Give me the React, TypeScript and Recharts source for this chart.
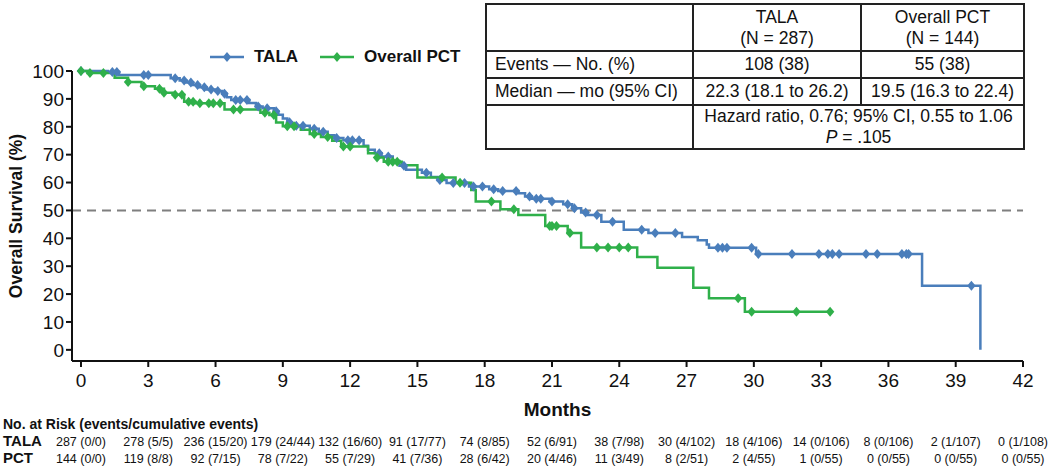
import React from 'react';
import { LineChart, Line, XAxis, YAxis, ReferenceLine, Legend } from 'recharts';

const FONT = '"Liberation Sans", Arial, Helvetica, sans-serif';
const INK = '#111';
const TALA_COLOR = '#4a7ebb';
const PCT_COLOR = '#2fb04a';

const MONTH_TICKS = [0, 3, 6, 9, 12, 15, 18, 21, 24, 27, 30, 33, 36, 39, 42];
const SURVIVAL_TICKS = [0, 10, 20, 30, 40, 50, 60, 70, 80, 90, 100];

// KM steps: [month, survival % after the drop]
const TALA_STEPS: [number, number][] = [
  [0, 100], [1.2, 99.6], [1.7, 98.6], [4.0, 97.4], [4.4, 96.6], [4.7, 95.9], [5.0, 95.0],
  [5.3, 94.2], [5.6, 93.4], [6.0, 92.8], [6.3, 91.8], [6.5, 90.6], [6.7, 89.6], [7.5, 88.5],
  [7.8, 87.3], [8.1, 86.6], [8.6, 85.6], [8.8, 84.3], [9.0, 83.0], [9.2, 81.6], [9.4, 80.4],
  [10.2, 79.3], [10.6, 78.2], [11.0, 77.0], [11.3, 76.0], [11.7, 75.2], [12.6, 73.2],
  [12.8, 71.8], [13.1, 70.5], [13.4, 69.3], [13.9, 67.7], [14.2, 66.0], [14.5, 64.6],
  [15.2, 63.5], [15.6, 62.0], [15.9, 60.9], [16.3, 59.8], [17.3, 58.6], [18.2, 57.6],
  [18.6, 57.0], [19.5, 56.2], [19.8, 55.0], [20.1, 54.2], [20.9, 53.2], [21.5, 52.2],
  [21.9, 50.8], [22.3, 49.3], [22.6, 48.4], [23.2, 45.9], [24.2, 43.1], [25.3, 41.9],
  [26.8, 40.5], [27.5, 39.3], [27.9, 37.8], [28.0, 36.6], [30.1, 34.4], [37.5, 23.0],
  [40.1, 0],
];
const TALA_CENSORED = [
  0, 1.4, 1.6, 2.8, 3.0, 4.2, 4.6, 4.9, 5.2, 5.5, 5.8, 6.1, 6.4, 6.9, 7.1, 7.4, 7.9, 8.3,
  8.7, 9.3, 9.6, 9.9, 10.4, 10.8, 11.4, 11.9, 12.1, 12.4, 13.3, 13.7, 14.4, 15.4, 16.0,
  16.6, 17.1, 17.5, 17.9, 18.4, 18.8, 19.4, 20.0, 20.3, 20.5, 21.0, 21.7, 22.0, 22.5, 23.0,
  23.7, 25.0, 25.6, 26.5, 28.4, 28.6, 28.8, 29.9, 30.2, 31.7, 32.9, 33.3, 33.5, 33.8, 35.0,
  35.5, 36.6, 36.8, 36.9, 39.7,
];

const PCT_STEPS: [number, number][] = [
  [0, 100], [0.3, 99.3], [1.5, 97.6], [2.1, 96.1], [2.7, 94.5], [3.3, 93.6], [3.7, 92.2],
  [4.1, 91.5], [4.6, 89.0], [5.1, 88.4], [6.4, 86.2], [8.0, 85.0], [8.4, 84.2], [8.7, 81.5],
  [9.0, 80.2], [9.8, 78.9], [10.2, 77.4], [10.7, 76.3], [11.2, 75.0], [11.6, 72.9],
  [12.8, 70.5], [13.2, 69.0], [13.5, 67.5], [14.3, 66.2], [15.0, 61.8], [16.7, 59.9],
  [17.4, 57.3], [17.6, 53.2], [18.7, 50.4], [19.5, 48.4], [20.7, 44.4], [21.7, 41.9],
  [22.3, 36.7], [24.8, 33.3], [25.7, 29.4], [27.3, 22.3], [28.0, 18.5], [29.6, 13.7],
];
const PCT_CENSORED = [
  0, 0.4, 1.0, 2.1, 2.8, 3.5, 3.7, 4.2, 4.5, 4.8, 5.0, 5.3, 5.7, 5.9, 6.2, 6.8, 7.1, 8.2,
  8.6, 9.2, 9.5, 10.4, 11.0, 11.7, 12.0, 13.2, 13.7, 13.9, 14.1, 16.1, 16.9, 18.3, 19.3,
  20.9, 21.0, 21.2, 21.8, 23.0, 23.5, 24.0, 24.4, 29.3, 29.9, 31.9, 33.4,
];

// number at risk table (one value per month tick)
const TALA_AT_RISK = [287, 278, 236, 179, 132, 91, 74, 52, 38, 30, 18, 14, 8, 2, 0];
const TALA_EVENTS = [0, 5, 15, 24, 16, 17, 8, 6, 7, 4, 4, 0, 0, 1, 1];
const TALA_CUMULATIVE = [0, 5, 20, 44, 60, 77, 85, 91, 98, 102, 106, 106, 106, 107, 108];
const PCT_AT_RISK = [144, 119, 92, 78, 55, 41, 28, 20, 11, 8, 2, 1, 0, 0, 0];
const PCT_EVENTS = [0, 8, 7, 7, 7, 7, 6, 4, 3, 2, 4, 0, 0, 0, 0];
const PCT_CUMULATIVE = [0, 8, 15, 22, 29, 36, 42, 46, 49, 51, 55, 55, 55, 55, 55];

// summary table
const ARM_NAMES = ['TALA', 'Overall PCT'];
const ARM_N = [287, 144];
const ARM_EVENTS = ['108 (38)', '55 (38)'];
const ARM_MEDIAN = ['22.3 (18.1 to 26.2)', '19.5 (16.3 to 22.4)'];
const HAZARD_TEXT = 'Hazard ratio, 0.76; 95% CI, 0.55 to 1.06';
const P_VALUE = '.105';

type Pt = { t: number; s: number; censored: boolean };

function buildCurve(steps: [number, number][], censored: number[]): Pt[] {
  const pts: Pt[] = steps.map(([t, s]) => ({ t, s, censored: false }));
  censored.forEach((c) => {
    let s = steps[0][1];
    for (const [t, v] of steps) if (t <= c) s = v;
    pts.push({ t: c, s, censored: true });
  });
  return pts.sort((a, b) => a.t - b.t || Number(a.censored) - Number(b.censored));
}

const riskLabels = (atRisk: number[], ev: number[], cum: number[]) =>
  atRisk.map((n, i) => `${n} (${ev[i]}/${cum[i]})`);

const TALA_DATA = buildCurve(TALA_STEPS, TALA_CENSORED);
const PCT_DATA = buildCurve(PCT_STEPS, PCT_CENSORED);
const TALA_RISK = riskLabels(TALA_AT_RISK, TALA_EVENTS, TALA_CUMULATIVE);
const PCT_RISK = riskLabels(PCT_AT_RISK, PCT_EVENTS, PCT_CUMULATIVE);

const diamond = (cx: number, cy: number, w = 4.2, h = 5) =>
  `M${cx},${cy - h}L${cx + w},${cy}L${cx},${cy + h}L${cx - w},${cy}Z`;

const censorDot = (color: string) => (props: any) => {
  const { cx, cy, payload, index } = props;
  if (!payload?.censored || cx == null) return <g key={`n-${index}`} />;
  return <path key={`c-${index}`} d={diamond(cx, cy)} fill={color} />;
};

// month tick + the two "at risk" rows underneath it
const MonthTick = (props: any) => {
  const { x, y, payload } = props;
  const idx = MONTH_TICKS.indexOf(payload.value);
  const bold = { fontWeight: 700, fill: INK, fontFamily: FONT };
  const small = { fontSize: 12.5, fill: INK, fontFamily: FONT };
  return (
    <g>
      <text x={x} y={y + 13} textAnchor="middle" fontSize={19} fill={INK} fontFamily={FONT}>
        {payload.value}
      </text>
      {idx === 0 && (
        <>
          <text x={3} y={y + 55} fontSize={14} {...bold}>No. at Risk (events/cumulative events)</text>
          <text x={3} y={y + 72} fontSize={15} {...bold}>TALA</text>
          <text x={3} y={y + 89} fontSize={15} {...bold}>PCT</text>
        </>
      )}
      <text x={x} y={y + 72} textAnchor="middle" {...small}>{TALA_RISK[idx]}</text>
      <text x={x} y={y + 89} textAnchor="middle" {...small}>{PCT_RISK[idx]}</text>
    </g>
  );
};

const LegendContent = (props: any) => {
  const items = [...(props.payload || [])].sort(
    (a: any, b: any) => ARM_NAMES.indexOf(a.value) - ARM_NAMES.indexOf(b.value)
  );
  return (
    <div style={{ display: 'flex', alignItems: 'center', fontFamily: FONT, fontWeight: 700, fontSize: 17, color: INK, lineHeight: '20px' }}>
      {items.map((entry: any, i: number) => (
        <div key={i} style={{ display: 'flex', alignItems: 'center', marginRight: 22 }}>
          <svg width={34} height={12}>
            <line x1={0} y1={6} x2={34} y2={6} stroke={entry.color} strokeWidth={2.5} />
            <path d={diamond(17, 6)} fill={entry.color} />
          </svg>
          <span style={{ marginLeft: 10 }}>{entry.value}</span>
        </div>
      ))}
    </div>
  );
};

const cell: React.CSSProperties = { border: '2px solid #222', padding: '0 8px' };

function SummaryTable() {
  return (
    <table
      style={{
        position: 'absolute', left: 485, top: 3, width: 538, height: 142,
        borderCollapse: 'collapse', fontFamily: FONT, fontSize: 17.5, color: INK,
        background: '#fff', lineHeight: '21px', tableLayout: 'fixed',
      }}
    >
      <colgroup>
        <col style={{ width: 207 }} />
        <col style={{ width: 168 }} />
        <col style={{ width: 163 }} />
      </colgroup>
      <tbody>
        <tr style={{ height: 47 }}>
          <td style={cell} />
          {ARM_NAMES.map((n, i) => (
            <td key={n} style={{ ...cell, textAlign: 'center' }}>
              {n}
              <br />(N = {ARM_N[i]})
            </td>
          ))}
        </tr>
        <tr style={{ height: 27 }}>
          <td style={cell}>Events — No. (%)</td>
          {ARM_EVENTS.map((v) => (
            <td key={v} style={{ ...cell, textAlign: 'center' }}>{v}</td>
          ))}
        </tr>
        <tr style={{ height: 27 }}>
          <td style={cell}>Median — mo (95% CI)</td>
          {ARM_MEDIAN.map((v) => (
            <td key={v} style={{ ...cell, textAlign: 'center', padding: '0 2px' }}>{v}</td>
          ))}
        </tr>
        <tr style={{ height: 41 }}>
          <td style={cell} />
          <td colSpan={2} style={{ ...cell, textAlign: 'center' }}>
            {HAZARD_TEXT}
            <br />
            <i>P</i> = {P_VALUE}
          </td>
        </tr>
      </tbody>
    </table>
  );
}

export default function App() {
  return (
    <div style={{ position: 'absolute', left: 0, top: 0, width: 1050, height: 468, background: '#fff' }}>
      <LineChart
        width={1050}
        height={468}
        margin={{ top: 71, right: 27, left: 0, bottom: 2 }}
        style={{ fontFamily: FONT }}
      >
        <XAxis
          xAxisId="months"
          type="number"
          dataKey="t"
          domain={[-0.4, 42]}
          ticks={MONTH_TICKS}
          interval={0}
          height={105}
          tickSize={6}
          tickMargin={7}
          axisLine={{ stroke: INK, strokeWidth: 2 }}
          tickLine={{ stroke: INK, strokeWidth: 2 }}
          tick={MonthTick}
          label={{ value: 'Months', position: 'insideTop', offset: 42, dx: 10, style: { fontSize: 19, fontWeight: 700, fill: INK, fontFamily: FONT } }}
        />
        <YAxis
          type="number"
          domain={[-4, 100]}
          ticks={SURVIVAL_TICKS}
          interval={0}
          width={72}
          tickSize={6}
          tickMargin={2}
          axisLine={{ stroke: INK, strokeWidth: 2 }}
          tickLine={{ stroke: INK, strokeWidth: 2 }}
          tick={{ fontSize: 19, fill: INK, fontFamily: FONT }}
          label={{ value: 'Overall Survival (%)', angle: -90, position: 'insideLeft', offset: 16, style: { textAnchor: 'middle', fontSize: 17.5, fontWeight: 700, fill: INK, fontFamily: FONT } }}
        />
        <ReferenceLine xAxisId="months" y={50} stroke="#7f7f7f" strokeWidth={2} strokeDasharray="9 6" />
        <Legend
          layout="horizontal"
          verticalAlign="middle"
          align="center"
          wrapperStyle={{ left: 210, top: 47, width: 'auto' }}
          content={LegendContent}
        />
        <Line
          xAxisId="months"
          data={TALA_DATA}
          dataKey="s"
          name="TALA"
          type="stepAfter"
          stroke={TALA_COLOR}
          strokeWidth={2.5}
          dot={censorDot(TALA_COLOR)}
          activeDot={false}
          isAnimationActive={false}
        />
        <Line
          xAxisId="months"
          data={PCT_DATA}
          dataKey="s"
          name="Overall PCT"
          type="stepAfter"
          stroke={PCT_COLOR}
          strokeWidth={2.5}
          dot={censorDot(PCT_COLOR)}
          activeDot={false}
          isAnimationActive={false}
        />
      </LineChart>
      <SummaryTable />
    </div>
  );
}
